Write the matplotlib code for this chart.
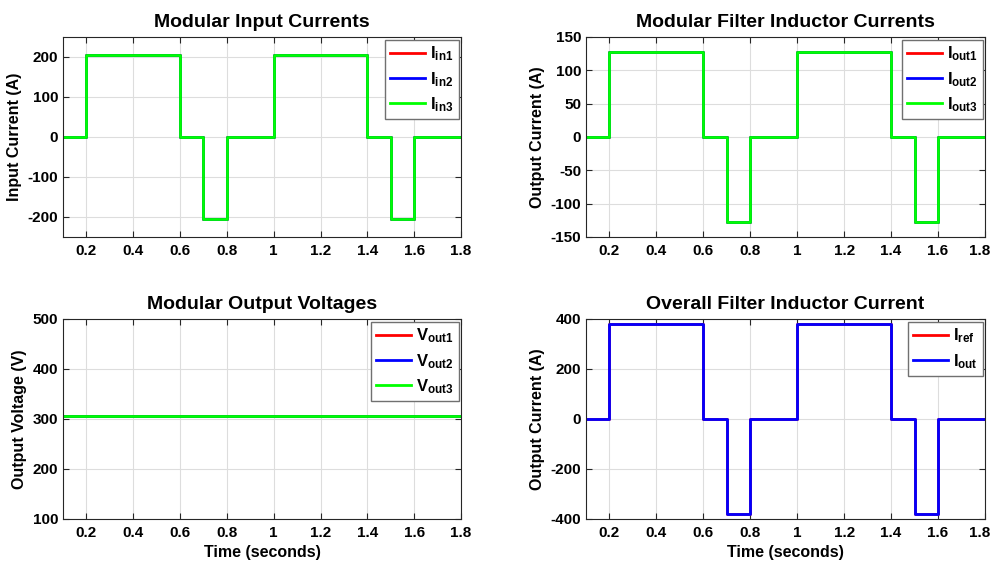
import numpy as np
import matplotlib
matplotlib.use("Agg")
import matplotlib.pyplot as plt
import matplotlib.transforms as mtransforms
from matplotlib.ticker import FormatStrFormatter

plt.rcParams['font.family'] = ['Liberation Sans', 'DejaVu Sans']
plt.rcParams['font.weight'] = 'bold'
plt.rcParams['axes.unicode_minus'] = False
plt.rcParams['mathtext.fontset'] = 'custom'
plt.rcParams['mathtext.rm'] = 'Liberation Sans:bold'
plt.rcParams['mathtext.bf'] = 'Liberation Sans:bold'
plt.rcParams['mathtext.it'] = 'Liberation Sans:bold'

# switching instants (s) and the level held after each instant
t_edges = [0.1, 0.2, 0.6, 0.7, 0.8, 1.0, 1.4, 1.5, 1.6, 1.8]
pattern = [0, 1, 0, -1, 0, 1, 0, -1, 0, 0]

# amplitudes
i_in_amp = 205      # modular input current
i_out_amp = 127     # modular filter inductor current
i_tot_amp = 380     # overall filter inductor current
v_out = 306         # modular output voltage

in_labels = [r'$\mathbf{I_{in1}}$', r'$\mathbf{I_{in2}}$', r'$\mathbf{I_{in3}}$']
out_labels = [r'$\mathbf{I_{out1}}$', r'$\mathbf{I_{out2}}$', r'$\mathbf{I_{out3}}$']
v_labels = [r'$\mathbf{V_{out1}}$', r'$\mathbf{V_{out2}}$', r'$\mathbf{V_{out3}}$']
tot_labels = [r'$\mathbf{I_{ref}}$', r'$\mathbf{I_{out}}$']

colors = ['#ff0000', '#0000ff', '#00ff00']

t = np.array(t_edges)
p = np.array(pattern)

fig = plt.figure(figsize=(9.93, 5.65), dpi=100)
W, H = 993, 565


def make_axes(x0, y0, x1, y1):
    return fig.add_axes([x0 / W, 1 - y1 / H, (x1 - x0) / W, (y1 - y0) / H])


ax1 = make_axes(63, 37, 461, 237)
ax2 = make_axes(586, 37, 985, 237)
ax3 = make_axes(63, 319, 461, 519)
ax4 = make_axes(586, 319, 985, 519)


def style(ax, title, ylabel, ylim, yticks, xlabel=None):
    ax.set_xlim(0.1, 1.8)
    ax.set_xticks(np.arange(0.2, 1.81, 0.2))
    ax.xaxis.set_major_formatter(FormatStrFormatter('%g'))
    ax.set_ylim(*ylim)
    ax.set_yticks(yticks)
    ax.grid(True, color='#dddddd', linewidth=0.8)
    ax.set_axisbelow(True)
    ax.tick_params(direction='in', top=True, right=True, length=4,
                   labelsize=11, color='#262626', width=0.8)
    ax.tick_params(axis='x', pad=5)
    for s in ax.spines.values():
        s.set_color('#262626')
        s.set_linewidth(0.8)
    ax.set_title(title, fontsize=14, fontweight='bold', pad=7)
    ax.set_ylabel(ylabel, fontsize=11.5, fontweight='bold', labelpad=4)
    if xlabel:
        ax.set_xlabel(xlabel, fontsize=11.5, fontweight='bold', labelpad=4)


def legend(ax):
    leg = ax.legend(loc='upper right', fancybox=False, framealpha=1,
                    edgecolor='#707070', fontsize=12, handlelength=2.1,
                    handletextpad=0.3, borderpad=0.3, labelspacing=0.4,
                    borderaxespad=0.15)
    leg.get_frame().set_linewidth(1.0)


for lab, c in zip(in_labels, colors):
    ax1.plot(t, p * i_in_amp, drawstyle='steps-post', color=c, lw=2, label=lab)
style(ax1, 'Modular Input Currents', 'Input Current (A)', (-250, 250),
      [-200, -100, 0, 100, 200])
legend(ax1)

for lab, c in zip(out_labels, colors):
    ax2.plot(t, p * i_out_amp, drawstyle='steps-post', color=c, lw=2, label=lab)
style(ax2, 'Modular Filter Inductor Currents', 'Output Current (A)', (-150, 150),
      [-150, -100, -50, 0, 50, 100, 150])
legend(ax2)

for lab, c in zip(v_labels, colors):
    ax3.plot(t, np.full_like(t, v_out, dtype=float), color=c, lw=2, label=lab)
style(ax3, 'Modular Output Voltages', 'Output Voltage (V)', (100, 500),
      [100, 200, 300, 400, 500], xlabel='Time (seconds)')
legend(ax3)

for lab, c in zip(tot_labels, colors[:2]):
    ax4.plot(t, p * i_tot_amp, drawstyle='steps-post', color=c, lw=2, label=lab)
style(ax4, 'Overall Filter Inductor Current', 'Output Current (A)', (-400, 400),
      [-400, -200, 0, 200, 400], xlabel='Time (seconds)')
legend(ax4)

# keep the last tick label of the right column inside the figure
fig.canvas.draw()
shift = mtransforms.ScaledTranslation(-5 / 100, 0, fig.dpi_scale_trans)
for ax in (ax2, ax4):
    lab = ax.get_xticklabels()[-1]
    lab.set_transform(lab.get_transform() + shift)

fig.savefig('out.png', dpi=100)
